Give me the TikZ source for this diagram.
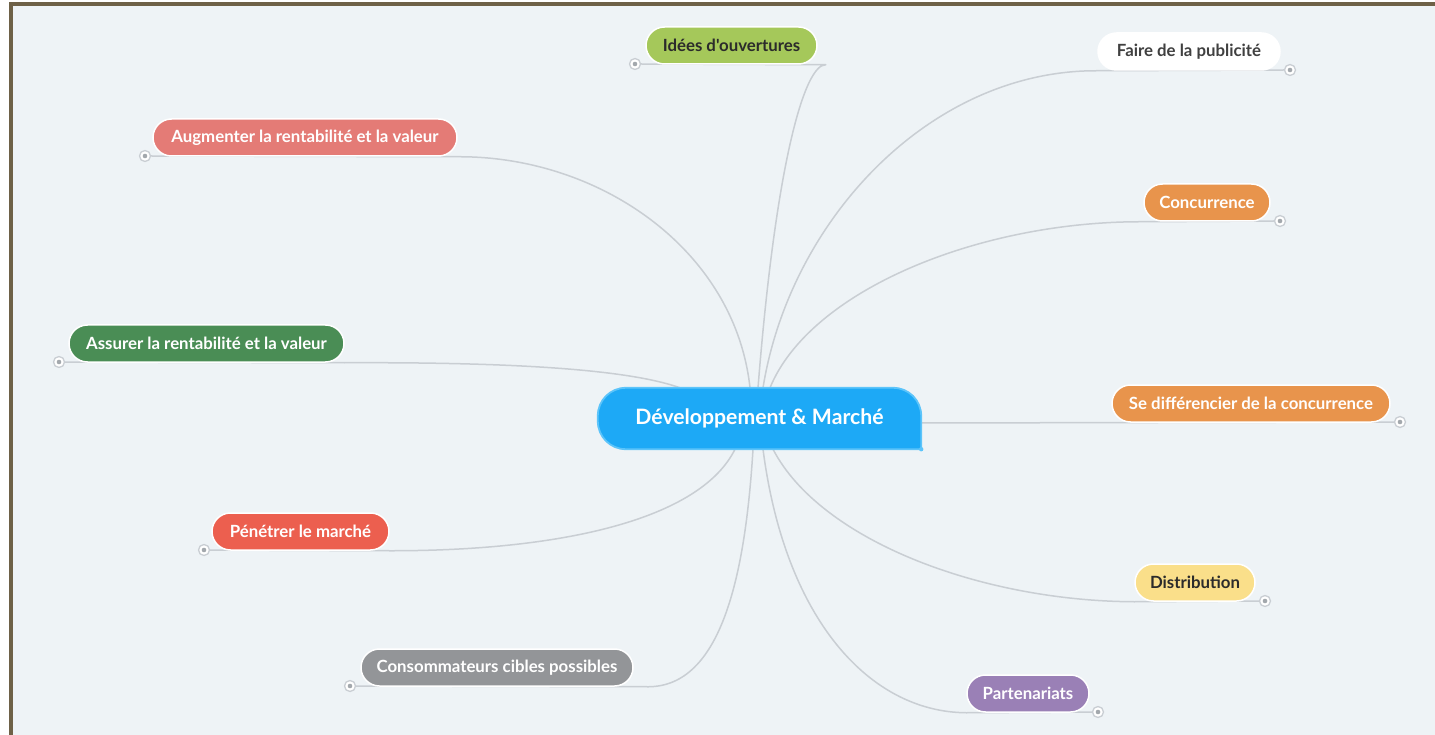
\documentclass[tikz,border=0pt]{standalone}
\usepackage{fontspec}
\newfontfamily\lato{Lato}
\usetikzlibrary{calc}
\pgfdeclarelayer{base}
\pgfdeclarelayer{bg}
\pgfdeclarelayer{mid}
\pgfsetlayers{base,bg,mid,main}
\definecolor{framec}{HTML}{6E6147}
\definecolor{bgc}{HTML}{EEF3F6}
\definecolor{linec}{HTML}{C9CED3}
\definecolor{dotg}{HTML}{A3A8AD}
\definecolor{centerc}{HTML}{1DA9F6}
\definecolor{centerb}{HTML}{5CC4FA}
\definecolor{limec}{HTML}{A5C85A}
\definecolor{salmonc}{HTML}{E47B76}
\definecolor{orangec}{HTML}{E8944C}
\definecolor{greenc}{HTML}{4A8D55}
\definecolor{redc}{HTML}{EC5F4F}
\definecolor{yellowc}{HTML}{FADF8A}
\definecolor{grayc}{HTML}{939598}
\definecolor{purplec}{HTML}{9A80B6}
\definecolor{darkt}{HTML}{2B2B2B}
\begin{document}
\begin{tikzpicture}[x=1pt,y=-1pt,
  pill/.style={rounded corners=18.5pt, minimum height=37pt, inner sep=0pt, draw=white, line width=1.5pt,
    font=\lato\bfseries\fontsize{16.8}{19}\selectfont, text=white},
  dotc/.style={circle, draw=linec, fill=white, line width=1.3pt, minimum size=11pt, inner sep=0pt,
    path picture={\fill[dotg] (path picture bounding box.center) circle (2.3pt);}},
  conn/.style={draw=linec, line width=1.5pt, line cap=round, line join=round}]
\useasboundingbox (0,0) rectangle (1435,735);
\begin{pgfonlayer}{base}
\fill[white] (0,0) rectangle (1435,735);
\draw[framec, line width=4.5pt, fill=bgc] (11,4) rectangle (1460,760);
\end{pgfonlayer}

% center
\node[minimum width=323pt, minimum height=61pt, inner sep=0pt, text=white,
  font=\lato\bfseries\fontsize{21.2}{25}\selectfont] (c) at (759.5,418.5) {Développement \& Marché};
\begin{pgfonlayer}{mid}
\filldraw[fill=centerc, draw=centerb, line width=1.8pt, rounded corners=28pt, line join=round]
  (c.south east) -- (c.south west) -- (c.north west) -- (c.north east) -- (c.south east);
\fill[centerb] (c.south east) circle (2.2pt);
\end{pgfonlayer}

% branches
\node[pill, fill=limec, text=darkt, minimum width=171pt] (ide) at (731.5,45.5) {Idées d'ouvertures};
\node[pill, fill=white, text=darkt!90, minimum width=182pt] (fai) at (1189,51.5) {Faire de la publicité};
\node[pill, fill=salmonc, minimum width=304pt] (aug) at (305,137.5) {Augmenter la rentabilité et la valeur};
\node[pill, fill=orangec, minimum width=126pt] (conc) at (1207,202.5) {Concurrence};
\node[pill, fill=greenc, minimum width=275pt] (ass) at (206.5,343.5) {Assurer la rentabilité et la valeur};
\node[pill, fill=orangec, minimum width=278pt] (sed) at (1251,403.5) {Se différencier de la concurrence};
\node[pill, fill=redc, minimum width=177pt] (pen) at (300.5,531.5) {Pénétrer le marché};
\node[pill, fill=yellowc, text=darkt, minimum width=120pt] (dis) at (1195,582.5) {Distribution};
\node[pill, fill=grayc, minimum width=272pt] (cons) at (497,667.5) {Consommateurs cibles possibles};
\node[pill, fill=purplec, minimum width=122pt] (par) at (1028,693.5) {Partenariats};

% end dots
\node[dotc] (ided) at (635,64) {};
\node[dotc] (faid) at (1290,70) {};
\node[dotc] (augd) at (145,156) {};
\node[dotc] (concd) at (1280,221) {};
\node[dotc] (assd) at (59,362) {};
\node[dotc] (sedd) at (1400,422) {};
\node[dotc] (pend) at (204,550) {};
\node[dotc] (disd) at (1265,601) {};
\node[dotc] (consd) at (350,686) {};
\node[dotc] (pard) at (1098,712) {};

% attachment points
\coordinate (cA) at ($(c.north)+(-9.5,0)$);
\coordinate (cI) at ($(c.north)+(-1.5,0)$);
\coordinate (cF) at ($(c.north)+(3.5,0)$);
\coordinate (cC) at ($(c.north)+(10.5,0)$);
\coordinate (cS) at ($(c.north)+(-79.5,0)$);
\coordinate (cE) at ($(c.east)+(0,4.5)$);
\coordinate (cP) at ($(c.south)+(-24.5,0)$);
\coordinate (cK) at ($(c.south)+(-6.5,0)$);
\coordinate (cR) at ($(c.south)+(3.5,0)$);
\coordinate (cD) at ($(c.south)+(13.5,0)$);
\coordinate (ideE) at ($(ide.south east)+(8,0)$);
\coordinate (consE) at ($(cons.south east)+(15,0)$);

\begin{pgfonlayer}{bg}
\draw[conn] (ided.east) -- (ideE) .. controls (805,64) and (776,160) .. (cI);
\draw[conn] (faid.west) -- (fai.south west) .. controls (930,70) and (790,220) .. (cF);
\draw[conn] (augd.east) -- (aug.south east) .. controls (600,156) and (735,250) .. (cA);
\draw[conn] (concd.west) -- (conc.south west) .. controls (980,221) and (810,290) .. (cC);
\draw[conn] (assd.east) -- (ass.south east) .. controls (520,362) and (630,370) .. (cS);
\draw[conn] (cE) -- (sedd.west);
\draw[conn] (pend.east) -- (pen.south east) .. controls (560,551) and (700,520) .. (cP);
\draw[conn] (consd.east) -- (consE) .. controls (720,686) and (745,580) .. (cK);
\draw[conn] (pard.west) -- (par.south west) .. controls (870,712) and (785,620) .. (cR);
\draw[conn] (disd.west) -- (dis.south west) .. controls (980,601) and (820,540) .. (cD);
\end{pgfonlayer}
\end{tikzpicture}
\end{document}
